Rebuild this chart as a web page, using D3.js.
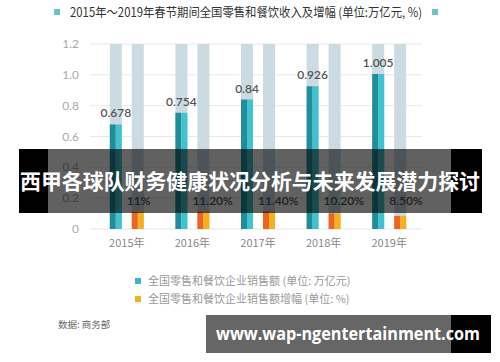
<!DOCTYPE html>
<html>
<head>
<meta charset="utf-8">
<script src="https://cdn.jsdelivr.net/npm/d3@7"></script>
<style>
  body { margin: 0; background: #fff; }
  svg { display: block; }
</style>
</head>
<body>
<div id="chart"></div>
<script>
// data
var years = ["2015年", "2016年", "2017年", "2018年", "2019年"];
var sales = [0.678, 0.754, 0.84, 0.926, 1.005];
var growth = [11, 11.2, 11.4, 10.2, 8.5];
var growthLabels = ["11%", "11.20%", "11.40%", "10.20%", "8.50%"];
var yTicks = [0, 0.2, 0.4, 0.6, 0.8, 1.0, 1.2];
var yTickLabels = ["0", "0.2", "0.4", "0.6", "0.8", "1.0", "1.2"];

var svgWidth = 500, svgHeight = 362;
var cjk = "'Noto Sans CJK SC', 'Noto Sans', sans-serif";
var num = "Lato, 'Open Sans', sans-serif";

var svg = d3.select("#chart")
  .append("svg")
  .attr("width", svgWidth)
  .attr("height", svgHeight);

// scales
var x = d3.scaleBand().domain(years).range([94, 422]);
var y = d3.scaleLinear().domain([0, 1.2]).range([229, 44]);
var barW = 12, gap = 10;

// title
svg.append("rect").attr("x", 54).attr("y", 9).attr("width", 6).attr("height", 6).attr("fill", "#6cc3c9");
svg.append("rect").attr("x", 432).attr("y", 9).attr("width", 6).attr("height", 6).attr("fill", "#6cc3c9");
svg.append("text")
  .attr("x", 70).attr("y", 17)
  .attr("font-family", cjk).attr("font-size", 12.5).attr("fill", "#333")
  .attr("textLength", 352).attr("lengthAdjust", "spacingAndGlyphs")
  .text("2015年～2019年春节期间全国零售和餐饮收入及增幅 (单位:万亿元, %)");

// gridlines + y labels
svg.append("g").selectAll("line")
  .data(yTicks).enter().append("line")
  .attr("x1", 90).attr("x2", 422)
  .attr("y1", d => y(d)).attr("y2", d => y(d))
  .attr("stroke", "#e8e8e8").attr("stroke-width", 1);

svg.append("g").selectAll("text")
  .data(yTicks).enter().append("text")
  .attr("x", 79).attr("y", d => y(d) + 4)
  .attr("text-anchor", "end")
  .attr("font-family", num).attr("font-size", 12).attr("fill", "#aaa")
  .text((d, i) => yTickLabels[i]);

var groups = svg.append("g").selectAll("g")
  .data(years).enter().append("g")
  .attr("transform", d => `translate(${x(d) + x.bandwidth() / 2 - barW - gap / 2}, 0)`);

// background bars
groups.append("rect").attr("x", 0).attr("width", barW)
  .attr("y", y(1.2)).attr("height", y(0) - y(1.2)).attr("fill", "#cbdbe1");
groups.append("rect").attr("x", barW + gap).attr("width", barW)
  .attr("y", y(1.2)).attr("height", y(0) - y(1.2)).attr("fill", "#cbdbe1");

// sales bars (two tone)
groups.append("rect").attr("x", 0).attr("width", barW / 2)
  .attr("y", (d, i) => y(sales[i])).attr("height", (d, i) => y(0) - y(sales[i]))
  .attr("fill", "#1f8e99");
groups.append("rect").attr("x", barW / 2).attr("width", barW / 2)
  .attr("y", (d, i) => y(sales[i])).attr("height", (d, i) => y(0) - y(sales[i]))
  .attr("fill", "#3fc3cc");

// growth bars (two tone)
groups.append("rect").attr("x", barW + gap).attr("width", barW / 2)
  .attr("y", (d, i) => y(growth[i] / 100)).attr("height", (d, i) => y(0) - y(growth[i] / 100))
  .attr("fill", "#ee6420");
groups.append("rect").attr("x", barW + gap + barW / 2).attr("width", barW / 2)
  .attr("y", (d, i) => y(growth[i] / 100)).attr("height", (d, i) => y(0) - y(growth[i] / 100))
  .attr("fill", "#f6b01c");

// value labels
groups.append("text")
  .attr("x", barW / 2).attr("y", (d, i) => y(sales[i]) - 7)
  .attr("text-anchor", "middle")
  .attr("font-family", num).attr("font-size", 12).attr("font-weight", 600).attr("fill", "#555")
  .text((d, i) => sales[i]);

groups.append("text")
  .attr("x", barW + gap - 5).attr("y", 205)
  .attr("font-family", num).attr("font-size", 12).attr("font-weight", 600).attr("fill", "#555")
  .text((d, i) => growthLabels[i]);

// x labels
svg.append("g").selectAll("text")
  .data(years).enter().append("text")
  .attr("x", d => x(d) + x.bandwidth() / 2)
  .attr("y", 247)
  .attr("text-anchor", "middle")
  .attr("font-family", cjk).attr("font-size", 11).attr("fill", "#888")
  .text(d => d);

// legend
var legend = [
  { color: "#3cb5c0", label: "全国零售和餐饮企业销售额 (单位: 万亿元)" },
  { color: "#f5b01e", label: "全国零售和餐饮企业销售额增幅 (单位: %)" }
];
var lg = svg.append("g").selectAll("g").data(legend).enter().append("g")
  .attr("transform", (d, i) => `translate(135, ${281 + i * 18})`);
lg.append("rect").attr("x", 0).attr("y", -3).attr("width", 6).attr("height", 6).attr("fill", d => d.color);
lg.append("text").attr("x", 13).attr("y", 4)
  .attr("font-family", cjk).attr("font-size", 11).attr("fill", "#999")
  .text(d => d.label);

// source
svg.append("text").attr("x", 58).attr("y", 328)
  .attr("font-family", "'Noto Sans CJK SC', serif").attr("font-size", 9.5).attr("fill", "#666")
  .text("数据: 商务部");

// overlay banner
svg.append("rect").attr("x", 19).attr("y", 149).attr("width", 29).attr("height", 64).attr("fill", "#000");
svg.append("rect").attr("x", 451).attr("y", 149).attr("width", 31).attr("height", 64).attr("fill", "#000");
svg.append("rect").attr("x", 48).attr("y", 149).attr("width", 403).attr("height", 64).attr("fill", "rgba(0,0,0,0.62)");
svg.append("text").attr("x", 250).attr("y", 189)
  .attr("text-anchor", "middle")
  .attr("font-family", cjk).attr("font-size", 21).attr("font-weight", "bold").attr("fill", "#fff")
  .attr("textLength", 460).attr("lengthAdjust", "spacingAndGlyphs")
  .text("西甲各球队财务健康状况分析与未来发展潜力探讨");

// watermark
svg.append("rect").attr("x", 206).attr("y", 315).attr("width", 245).attr("height", 38).attr("fill", "#666");
svg.append("rect").attr("x", 451).attr("y", 315).attr("width", 40).attr("height", 38).attr("fill", "#000");
svg.append("text").attr("x", 216).attr("y", 340)
  .attr("font-family", "'Open Sans', 'DejaVu Sans', sans-serif").attr("font-size", 17).attr("font-weight", "bold").attr("fill", "#fff")
  .attr("textLength", 264).attr("lengthAdjust", "spacingAndGlyphs")
  .text("www.wap-ngentertainment.com");
</script>
</body>
</html>
